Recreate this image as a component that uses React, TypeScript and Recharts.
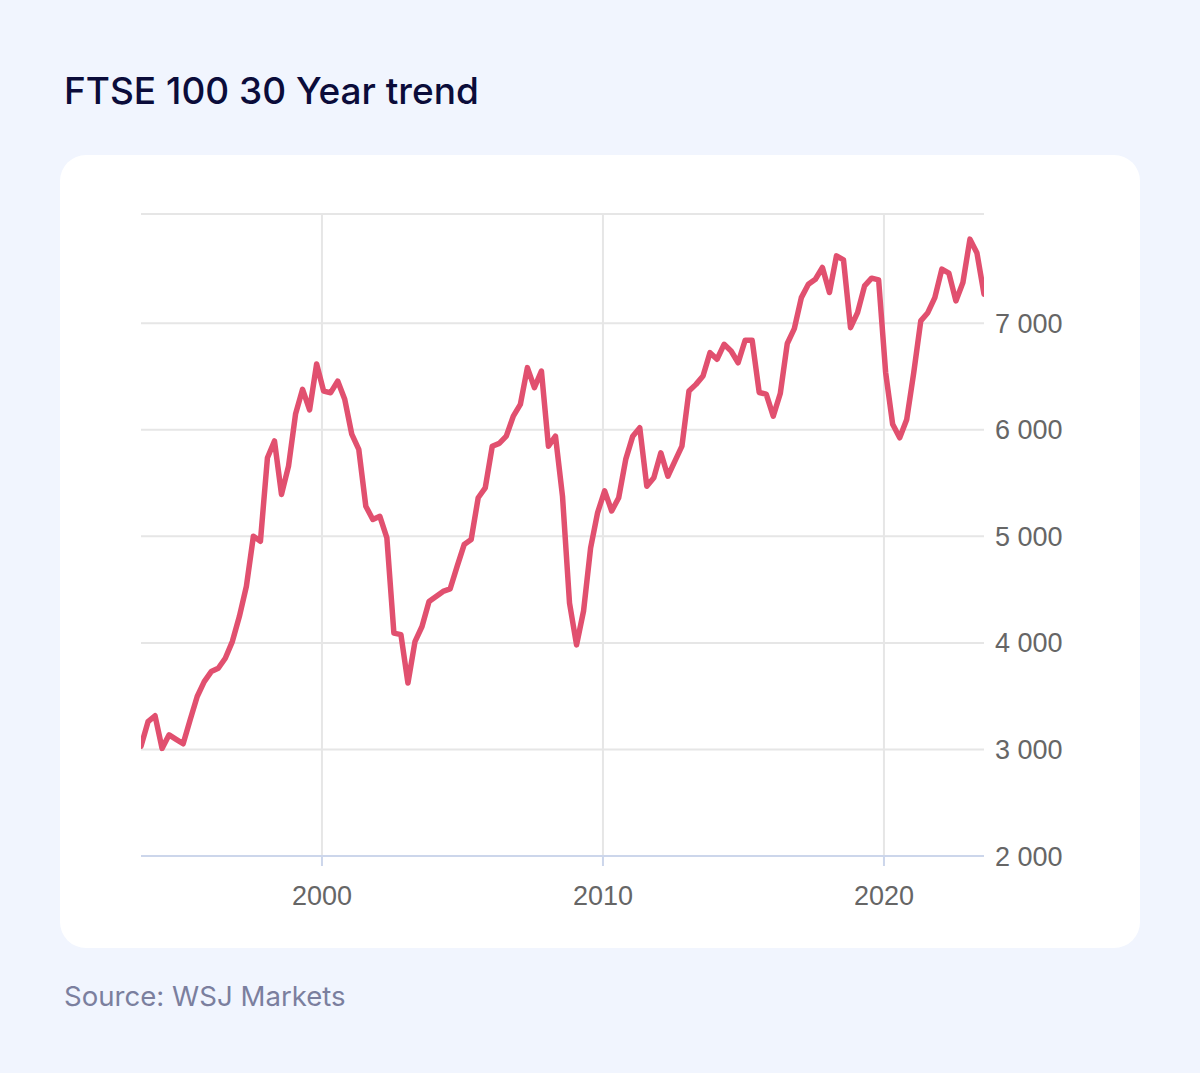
import { LineChart, Line, XAxis, YAxis, CartesianGrid, ReferenceLine } from 'recharts';

// FTSE 100 closing level, quarterly, mid-1993 .. mid-2023
const startYear = 1993.56;
const stepYears = 0.25;
const values = [
  3030, 3261, 3316, 3010, 3137, 3095, 3053, 3278, 3497, 3637,
  3731, 3762, 3856, 4012, 4247, 4531, 5001, 4954, 5738, 5895,
  5393, 5659, 6147, 6380, 6186, 6617, 6363, 6348, 6457, 6286,
  5959, 5816, 5283, 5158, 5188, 4985, 4092, 4077, 3623, 4012,
  4154, 4389, 4436, 4483, 4506, 4718, 4923, 4970, 5362, 5454,
  5846, 5872, 5940, 6128, 6238, 6583, 6395, 6551, 5846, 5940,
  5376, 4373, 3981, 4300, 4890, 5223, 5426, 5238, 5362, 5722,
  5940, 6019, 5470, 5549, 5784, 5564, 5705, 5846, 6363, 6426,
  6504, 6724, 6662, 6802, 6739, 6629, 6840, 6840, 6350, 6335,
  6128, 6340, 6810, 6950, 7240, 7366, 7413, 7523, 7288, 7632,
  7594, 6958, 7099, 7350, 7423, 7407, 6537, 6051, 5925, 6097,
  6537, 7022, 7099, 7240, 7508, 7470, 7209, 7382, 7789, 7658,
  7273,
];

const xTicks = [2000, 2010, 2020];
const yTicks = [2000, 3000, 4000, 5000, 6000, 7000, 8025];
const yMax = 8025;

const data = values.map((v, i) => ({ t: startYear + i * stepYears, v }));
const endYear = startYear + (values.length - 1) * stepYears;

const fmt = (n: number) => (n > 7000 ? '' : String(n).replace(/\B(?=(\d{3})+(?!\d))/g, ' '));

const labelFont = { fontFamily: '"Liberation Sans", Arial, sans-serif', fontSize: 27, fill: '#666666' };

export default function App() {
  return (
    <div
      style={{
        position: 'absolute',
        left: 0,
        top: 0,
        width: 1200,
        height: 1073,
        background: '#f1f5fe',
        fontFamily: 'Inter, sans-serif',
      }}
    >
      <div
        style={{
          position: 'absolute',
          left: 64,
          top: 72,
          fontSize: 37,
          lineHeight: '38px',
          fontWeight: 500,
          color: '#0b0c3a',
          whiteSpace: 'nowrap',
        }}
      >
        FTSE 100 30 Year trend
      </div>

      <div
        style={{
          position: 'absolute',
          left: 60,
          top: 155,
          width: 1080,
          height: 793,
          background: '#ffffff',
          borderRadius: 26,
        }}
      >
        <LineChart width={1080} height={793} data={data} margin={{ top: 59, right: 0, bottom: 32, left: 81 }}>
          <CartesianGrid stroke="#e6e6e6" strokeWidth={2} vertical={false} />
          {xTicks.map((x) => (
            <ReferenceLine key={x} x={x} stroke="#e6e6e6" strokeWidth={2} />
          ))}
          <XAxis
            dataKey="t"
            type="number"
            domain={[startYear, endYear]}
            allowDataOverflow
            ticks={xTicks}
            height={60}
            axisLine={{ stroke: '#ccd6eb', strokeWidth: 2 }}
            tickLine={{ stroke: '#ccd6eb', strokeWidth: 2 }}
            tickSize={10}
            tickMargin={20}
            tick={labelFont}
          />
          <YAxis
            orientation="right"
            type="number"
            domain={[2000, yMax]}
            allowDataOverflow
            ticks={yTicks}
            tickFormatter={fmt}
            width={156}
            axisLine={false}
            tickLine={false}
            tickSize={0}
            tickMargin={11}
            tick={labelFont}
          />
          <Line
            type="linear"
            dataKey="v"
            stroke="#e1506f"
            strokeWidth={5.5}
            strokeLinejoin="round"
            strokeLinecap="round"
            dot={false}
            isAnimationActive={false}
          />
        </LineChart>
      </div>

      <div
        style={{
          position: 'absolute',
          left: 64,
          top: 982,
          fontSize: 27.6,
          lineHeight: '28px',
          color: '#7b7f9e',
          whiteSpace: 'nowrap',
        }}
      >
        Source: WSJ Markets
      </div>
    </div>
  );
}
